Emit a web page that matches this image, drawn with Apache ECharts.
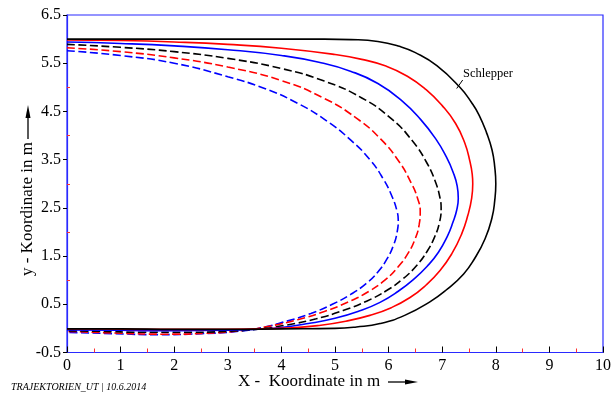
<!DOCTYPE html>
<html>
<head>
<meta charset="utf-8">
<script src="https://cdn.jsdelivr.net/npm/echarts@6/dist/echarts.min.js"></script>
<style>html,body{margin:0;padding:0;background:#fff}#c{width:616px;height:394px}</style>
</head>
<body>
<div id="c"></div>
<script>
// ---- data (metres) ----
const schlepper = [[0,6.0],[1,6.0],[2,6.0],[3,6.0],[4,6.0],[4.8,6.0],[5.3,5.99],[5.8,5.95],[6.2,5.85],[6.5,5.72],[6.9,5.45],[7.33,5.0],[7.55,4.68],[7.69,4.42],[7.83,4.05],[7.93,3.7],[7.98,3.35],[8.0,3.0],[7.98,2.65],[7.93,2.3],[7.8,1.86],[7.6,1.44],[7.4,1.13],[7.1,0.82],[6.77,0.55],[6.3,0.27],[5.84,0.1],[5.4,0.03],[5.0,0.0],[4,-0.01],[3,-0.02],[2,-0.02],[1,-0.01],[0,-0.01]];
const redSolid = [[0,5.98],[1,5.97],[2,5.94],[3,5.89],[4,5.81],[5,5.68],[5.5,5.58],[5.95,5.44],[6.35,5.23],[6.7,4.95],[7.0,4.62],[7.25,4.25],[7.42,3.85],[7.52,3.45],[7.56,3.2],[7.57,3.0],[7.55,2.7],[7.48,2.35],[7.36,1.95],[7.18,1.55],[6.96,1.2],[6.7,0.9],[6.4,0.64],[6.05,0.43],[5.65,0.27],[5.2,0.15],[4.7,0.06],[4.2,0.01],[3.5,-0.01],[2.5,-0.02],[1.5,-0.02],[0.5,-0.01],[0,-0.01]];
const blueSolid = [[0,5.94],[1,5.91],[2,5.86],[3,5.78],[4,5.66],[4.7,5.52],[5.3,5.33],[5.8,5.08],[6.25,4.72],[6.6,4.33],[6.88,3.93],[7.08,3.55],[7.2,3.25],[7.28,2.95],[7.3,2.7],[7.27,2.45],[7.2,2.2],[7.1,1.92],[6.93,1.58],[6.72,1.29],[6.47,1.02],[6.18,0.77],[5.84,0.54],[5.45,0.36],[5.0,0.21],[4.5,0.1],[4.0,0.02],[3.5,-0.02],[3,-0.04],[2,-0.05],[1,-0.04],[0,-0.03]];
const blackDashed = [[0,5.89],[1,5.83],[2,5.74],[3,5.6],[4,5.39],[4.8,5.13],[5.5,4.78],[6.05,4.35],[6.45,3.88],[6.72,3.42],[6.88,3.02],[6.96,2.7],[6.98,2.5],[6.95,2.2],[6.86,1.9],[6.72,1.6],[6.52,1.3],[6.27,1.03],[5.97,0.79],[5.6,0.57],[5.15,0.37],[4.65,0.2],[4.1,0.07],[3.6,-0.01],[3,-0.06],[2.2,-0.08],[1.4,-0.08],[0.6,-0.06],[0,-0.05]];
const redDashed = [[0,5.82],[1,5.74],[2,5.61],[3,5.42],[4,5.14],[4.8,4.77],[5.4,4.36],[5.85,3.93],[6.2,3.45],[6.42,3.02],[6.54,2.7],[6.59,2.42],[6.57,2.15],[6.5,1.87],[6.37,1.57],[6.18,1.28],[5.93,1.0],[5.62,0.76],[5.25,0.55],[4.8,0.35],[4.3,0.18],[3.8,0.05],[3.3,-0.04],[2.6,-0.1],[1.8,-0.12],[1,-0.1],[0,-0.06]];
const blueDashed = [[0,5.76],[1,5.66],[2,5.5],[3,5.22],[3.7,4.97],[4.3,4.67],[4.85,4.3],[5.3,3.9],[5.65,3.5],[5.9,3.1],[6.07,2.72],[6.16,2.42],[6.18,2.25],[6.16,2.0],[6.09,1.72],[5.97,1.44],[5.8,1.17],[5.58,0.93],[5.3,0.71],[4.95,0.5],[4.55,0.31],[4.1,0.15],[3.65,0.02],[3.2,-0.06],[2.5,-0.11],[1.7,-0.13],[0.9,-0.11],[0,-0.08]];

const xRange = [0, 10];
const yRange = [-0.5, 6.5];
const xName = 'X -  Koordinate in m';
const yName = 'y - Koordinate in m';
const footer = 'TRAJEKTORIEN_UT | 10.6.2014';
const annot = 'Schlepper';

const FONT = '"Liberation Serif", "Times New Roman", serif';
const FRAME = '#2a2aff';

function line(data, color, dashed) {
  return {
    type: 'line', data: data, smooth: 0.5, showSymbol: false, symbol: 'none',
    silent: true, animation: false,
    lineStyle: { color: color, width: 1.6, type: dashed ? [8, 3.5] : 'solid' }
  };
}

const chart = echarts.init(document.getElementById('c'), null, { renderer: 'canvas' });
chart.setOption({
  animation: false,
  backgroundColor: '#fff',
  grid: { left: 67, right: 13, top: 15, bottom: 41.5, show: true, borderColor: FRAME, borderWidth: 1.2 },
  xAxis: {
    type: 'value', min: xRange[0], max: xRange[1], interval: 1,
    axisLine: { show: true, onZero: false, lineStyle: { color: FRAME, width: 1.2 } },
    axisTick: { show: true, inside: true, length: 6, lineStyle: { color: '#000' } },
    minorTick: { show: true, splitNumber: 2, length: 4, lineStyle: { color: '#ff3030' } },
    splitLine: { show: false },
    axisLabel: { color: '#000', fontFamily: FONT, fontSize: 16, margin: 5 }
  },
  yAxis: {
    type: 'value', min: yRange[0], max: yRange[1], interval: 1,
    axisLine: { show: true, onZero: false, lineStyle: { color: FRAME, width: 1.2 } },
    axisTick: { show: true, inside: false, length: 4, lineStyle: { color: '#000' } },
    minorTick: { show: true, splitNumber: 2, length: -3, lineStyle: { color: '#ff3030' } },
    splitLine: { show: false },
    axisLabel: { color: '#000', fontFamily: FONT, fontSize: 16, margin: 6 }
  },
  series: [
    line(blueDashed, '#0000ff', true),
    line(redDashed, '#ff0000', true),
    line(blackDashed, '#000000', true),
    line(blueSolid, '#0000ff', false),
    line(redSolid, '#ff0000', false),
    line(schlepper, '#000000', false)
  ],
  graphic: [
    { type: 'text', left: 238, top: 373, style: { text: xName, font: '17px ' + FONT, fill: '#000' } },
    { type: 'line', shape: { x1: 388, y1: 382, x2: 406, y2: 382 }, style: { stroke: '#000', lineWidth: 1.3 } },
    { type: 'polygon', shape: { points: [[405, 379.5], [418, 382], [405, 384.5]] }, style: { fill: '#000' } },
    { type: 'text', x: 28, y: 209, rotation: Math.PI / 2, style: { text: yName, font: '17px ' + FONT, fill: '#000', align: 'center', verticalAlign: 'middle' } },
    { type: 'line', shape: { x1: 28, y1: 139, x2: 28, y2: 116 }, style: { stroke: '#000', lineWidth: 1.3 } },
    { type: 'polygon', shape: { points: [[25.5, 118], [28, 105], [30.5, 118]] }, style: { fill: '#000' } },
    { type: 'text', left: 11, top: 382, style: { text: footer, font: 'italic 10px ' + FONT, fill: '#000' } },
    { type: 'text', left: 463, top: 67, style: { text: annot, font: '12.5px ' + FONT, fill: '#000' } },
    { type: 'line', shape: { x1: 456.7, y1: 88.5, x2: 462.7, y2: 80 }, style: { stroke: '#000', lineWidth: 1 } }
  ]
});
</script>
</body>
</html>
